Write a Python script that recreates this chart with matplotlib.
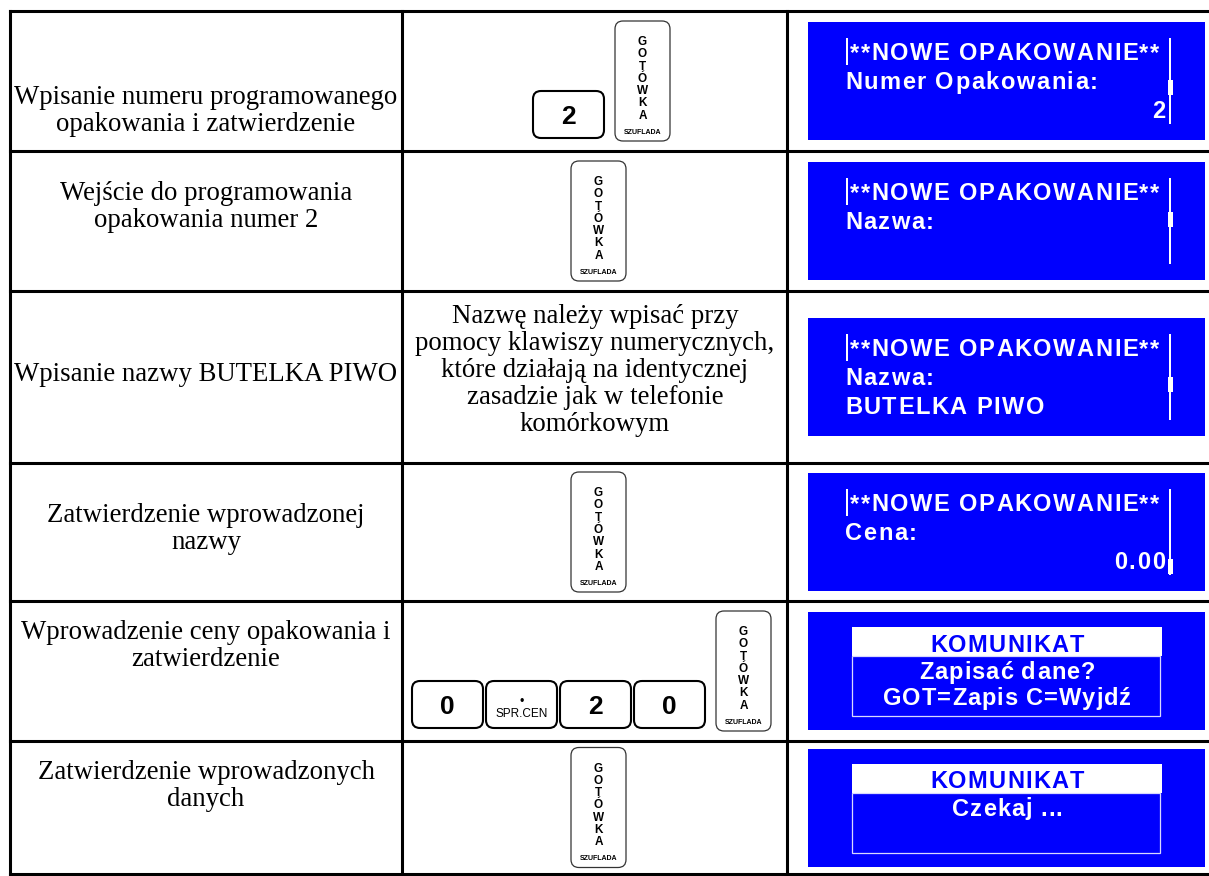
import matplotlib
matplotlib.use("Agg")
import matplotlib.pyplot as plt
from matplotlib.patches import FancyBboxPatch, Rectangle
from matplotlib import font_manager
from matplotlib.ft2font import FT2Font

DPI = 100
W, H = 1209, 876

# ---- table content ----
steps = [
    ["Wpisanie numeru programowanego", "opakowania i zatwierdzenie"],
    ["Wejście do programowania", "opakowania numer 2"],
    ["Wpisanie nazwy BUTELKA PIWO"],
    ["Zatwierdzenie wprowadzonej", "nazwy"],
    ["Wprowadzenie ceny opakowania i", "zatwierdzenie"],
    ["Zatwierdzenie wprowadzonych", "danych"],
]
key_seqs = [["2"], [], None, [], ["0", "•", "2", "0"], []]   # None = no keys, text instead
notes = ["Nazwę należy wpisać przy", "pomocy klawiszy numerycznych,",
         "które działają na identycznej", "zasadzie jak w telefonie",
         "komórkowym"]
screen_kind = ["edit", "edit", "edit", "edit", "msg", "msg"]
screen_lines = [
    ["**NOWE OPAKOWANIE**", "Numer Opakowania:"],
    ["**NOWE OPAKOWANIE**", "Nazwa:"],
    ["**NOWE OPAKOWANIE**", "Nazwa:", "BUTELKA PIWO"],
    ["**NOWE OPAKOWANIE**", "Cena:"],
    ["KOMUNIKAT", "Zapisać dane?", "GOT=Zapis C=Wyjdź"],
    ["KOMUNIKAT", "Czekaj ..."],
]
screen_value = ["2", "", "", "0.00", "", ""]
scroll_pos = [58, 50, 59, 86, None, None]

# ---- layout ----
row_edges = [11, 151, 291, 463, 601, 741, 874]
col_edges = [10, 402, 787, 1212]
left_base = [104, 200, 381, 522, 639, 779]
line_gap = 27
BLUE = "#0000fe"
SERIF = "Liberation Serif"
SANS = "Liberation Sans"
DISP = font_manager.FontProperties(family=SANS, weight="bold", size=17)


def glyph_advances(s, prop):
    font = FT2Font(font_manager.findfont(prop))
    font.set_size(prop.get_size_in_points(), DPI)
    return [font.load_char(ord(c)).linearHoriAdvance / 65536 for c in s]


def tracked(ax, x, y, s, prop, color, track, ha="left"):
    # draw letter-spaced text like the LCD font
    adv = glyph_advances(s, prop)
    total = sum(adv) + track * (len(s) - 1)
    if ha == "center":
        x -= total / 2
    elif ha == "right":
        x -= total
    for c, a in zip(s, adv):
        ax.text(x, y, c, fontproperties=prop, color=color, ha="left", va="baseline")
        x += a + track


def cash_key(ax, xc, yc):
    w, h = 55, 120
    ax.add_patch(FancyBboxPatch((xc - w / 2, yc - h / 2), w, h,
                                boxstyle="round,pad=0,rounding_size=8",
                                fc="white", ec="#333333", lw=0.9))
    for i, ch in enumerate("GOTÓWKA"):
        ax.text(xc, yc - h / 2 + 24 + i * 12.3, ch, ha="center", va="baseline",
                fontsize=8.5, fontweight="bold", family=SANS)
    ax.text(xc, yc + h / 2 - 7, "SZUFLADA", ha="center", va="baseline",
            fontsize=5, fontweight="bold", family=SANS)


def digit_key(ax, x0, y_bot, w, label):
    h = 47
    ax.add_patch(FancyBboxPatch((x0, y_bot - h), w, h,
                                boxstyle="round,pad=0,rounding_size=8",
                                fc="white", ec="black", lw=1.5))
    xc = x0 + w / 2
    if label == "•":
        ax.text(xc, y_bot - h / 2 - 2, "•", ha="center", va="center",
                fontsize=9, family=SANS)
        ax.text(xc, y_bot - 14, "SPR.CEN", ha="center", va="center",
                fontsize=8.5, family=SANS)
    else:
        ax.text(xc, y_bot - h / 2 + 9.5, label, ha="center", va="baseline",
                fontsize=19, fontweight="bold", family=SANS)


def edit_screen(ax, top, lines, value, scroll):
    bases = [top + 38, top + 67, top + 96]
    for i, s in enumerate(lines):
        tracked(ax, 850 if i == 0 else 845, bases[i], s, DISP, "white", 1.5)
    if value:
        tracked(ax, 1165, bases[2], value, DISP, "white", 1.7, ha="right")
    ax.add_patch(Rectangle((846, top + 16), 2, 27, fc="white", ec="none"))
    ax.add_patch(Rectangle((1169, top + 16), 2, 86, fc="white", ec="none"))
    ax.add_patch(Rectangle((1167.5, top + scroll), 5, 15, fc="white", ec="none"))


def msg_screen(ax, top, lines):
    ax.add_patch(Rectangle((852, top + 15), 310, 29, fc="white", ec="none"))
    ax.add_patch(Rectangle((852, top + 44), 308, 60, fc="none", ec="#d8d8ff", lw=0.9))
    tracked(ax, 1007, top + 40, lines[0], DISP, BLUE, 1.2, ha="center")
    for j, s in enumerate(lines[1:]):
        tracked(ax, 1007, top + 67 + 26 * j, s, DISP, "white", 1.0, ha="center")


fig = plt.figure(figsize=(W / DPI, H / DPI), dpi=DPI)
ax = fig.add_axes([0, 0, 1, 1])
ax.set_xlim(0, W)
ax.set_ylim(H, 0)
ax.axis("off")

for r in range(len(steps)):
    y0, y1 = row_edges[r], row_edges[r + 1]
    ym = (y0 + y1) / 2

    # column 1: description
    for j, s in enumerate(steps[r]):
        ax.text(206, left_base[r] + j * line_gap, s, ha="center", va="baseline",
                fontsize=19.3, family=SERIF)

    # column 2: keys or note
    seq = key_seqs[r]
    if seq is None:
        for j, s in enumerate(notes):
            ax.text(595, 323 + j * line_gap, s, ha="center", va="baseline",
                    fontsize=19.3, family=SERIF)
    else:
        key_bot = ym + 60 - 3
        if seq:
            x = 533 if len(seq) == 1 else 412
            for lab in seq:
                digit_key(ax, x, key_bot, 71, lab)
                x += 74
            cash_key(ax, x + 8 + 27.5, ym)
        else:
            cash_key(ax, 598.5, ym)

    # column 3: display
    top = ym - 59
    ax.add_patch(Rectangle((808, top), 397, 118, fc=BLUE, ec="none"))
    if screen_kind[r] == "edit":
        edit_screen(ax, top, screen_lines[r], screen_value[r], scroll_pos[r])
    else:
        msg_screen(ax, top, screen_lines[r])

# table grid
lw = 2.2
for y in row_edges:
    ax.plot([col_edges[0], col_edges[-1]], [y, y], color="black", lw=lw,
            solid_capstyle="projecting")
for x in col_edges:
    ax.plot([x, x], [row_edges[0], row_edges[-1]], color="black", lw=lw,
            solid_capstyle="projecting")

fig.savefig("out.png", dpi=DPI)
